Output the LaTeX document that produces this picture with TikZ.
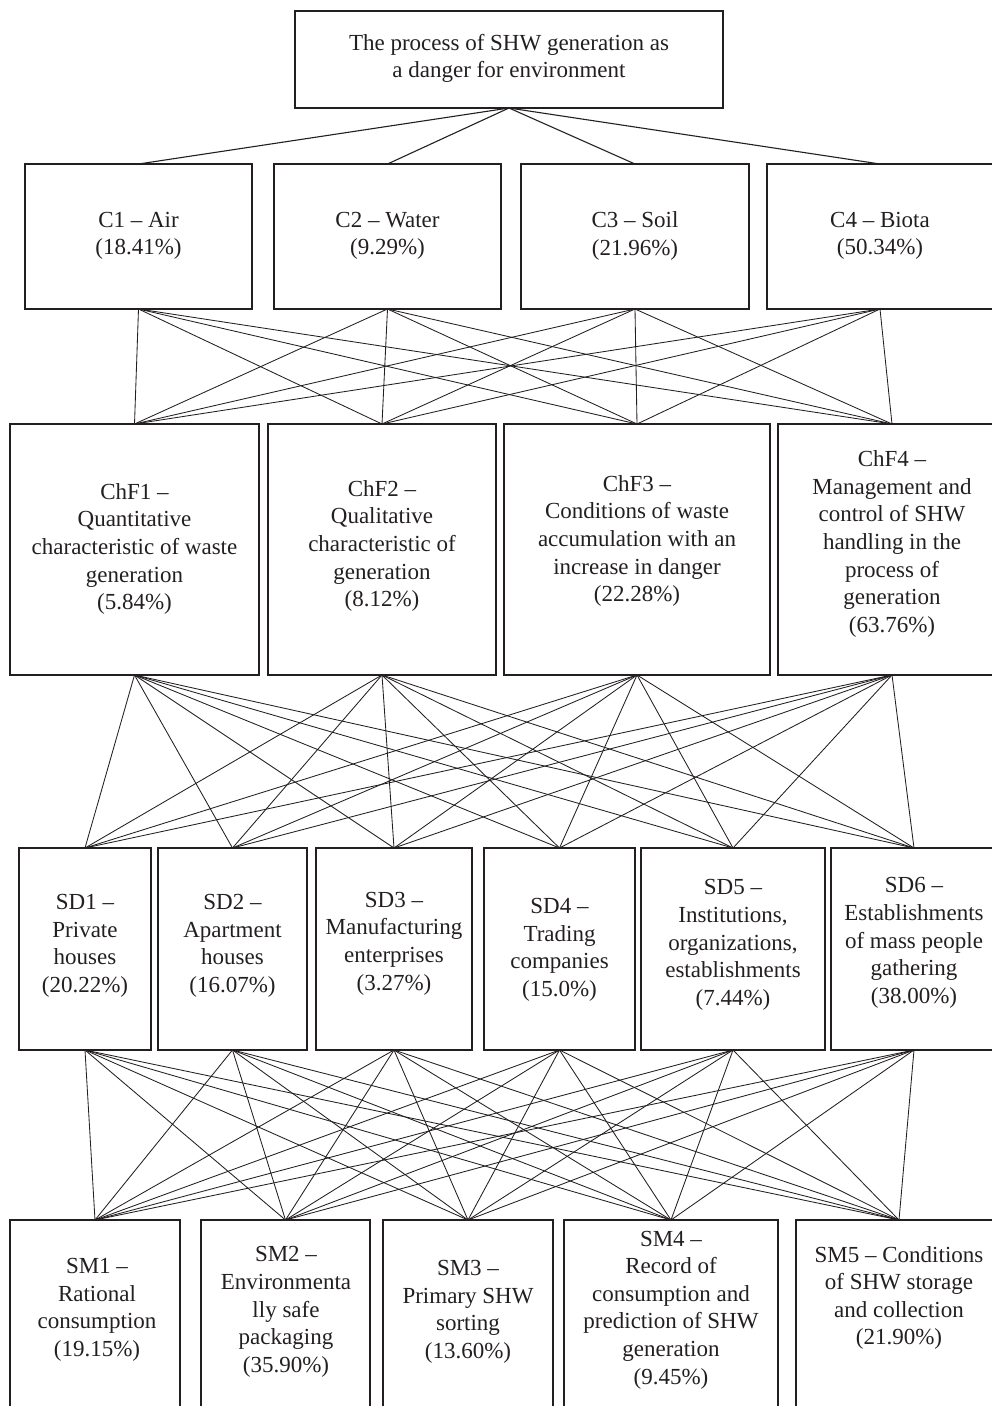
\documentclass[tikz,border=0pt]{standalone}
\usepackage{fontspec}
\setmainfont{Liberation Serif}
\definecolor{ink}{RGB}{35,31,32}
\newcommand\bx[5]{\node[box, minimum width={(#3-#2)*1pt}, minimum height={(#5-#4)*1pt}] (#1) at ({(#2+#3)/2},{(#4+#5)/2}) {};}
\begin{document}
\begin{tikzpicture}[x=1pt,y=-1pt, color=ink,
  box/.style={draw=ink, line width=1.1pt, inner sep=0pt, outer sep=0pt, rectangle},
  lbl/.style={align=center, inner sep=0pt, text=ink, font=\fontsize{23}{27.6}\selectfont},
  toplink/.style={draw=ink, line width=1.1pt},
  link/.style={draw=ink, line width=0.85pt}]
\useasboundingbox (0,0) rectangle (992,1406);
\clip (0,0) rectangle (992,1406);
% boxes
\bx{top}{295}{723}{11}{108}
\bx{c1}{25}{252}{164}{309}
\bx{c2}{274}{501}{164}{309}
\bx{c3}{521}{749}{164}{309}
\bx{c4}{767}{993}{164}{309}
\bx{f1}{10}{259}{424}{675}
\bx{f2}{268}{496}{424}{675}
\bx{f3}{504}{770}{424}{675}
\bx{f4}{778}{1006}{424}{675}
\bx{d1}{19}{151}{848}{1050}
\bx{d2}{158}{307}{848}{1050}
\bx{d3}{316}{472}{848}{1050}
\bx{d4}{484}{635}{848}{1050}
\bx{d5}{641}{825}{848}{1050}
\bx{d6}{831}{997}{848}{1050}
\bx{m1}{10}{180}{1220}{1412}
\bx{m2}{201}{370}{1220}{1412}
\bx{m3}{383}{553}{1220}{1412}
\bx{m4}{564}{778}{1220}{1412}
\bx{m5}{796}{1002}{1220}{1412}
% labels
\node[lbl] (ttop) at (509,58.5) {The process of SHW generation as\\a danger for environment};
\node[lbl] (tc1) at (138.5,236) {C1 – Air\\(18.41\%)};
\node[lbl] (tc2) at (387.5,236) {C2 – Water\\(9.29\%)};
\node[lbl] (tc3) at (635,236) {C3 – Soil\\(21.96\%)};
\node[lbl] (tc4) at (880,236) {C4 – Biota\\(50.34\%)};
\node[lbl] (tf1) at (134.5,549) {ChF1 –\\Quantitative\\characteristic of waste\\generation\\(5.84\%)};
\node[lbl] (tf2) at (382,546) {ChF2 –\\Qualitative\\characteristic of\\generation\\(8.12\%)};
\node[lbl] (tf3) at (637,541) {ChF3 –\\Conditions of waste\\accumulation with an\\increase in danger\\(22.28\%)};
\node[lbl] (tf4) at (892,544) {ChF4 –\\Management and\\control of SHW\\handling in the\\process of\\generation\\(63.76\%)};
\node[lbl] (td1) at (85,946) {SD1 –\\Private\\houses\\(20.22\%)};
\node[lbl] (td2) at (232.5,946) {SD2 –\\Apartment\\houses\\(16.07\%)};
\node[lbl] (td3) at (394,943.5) {SD3 –\\Manufacturing\\enterprises\\(3.27\%)};
\node[lbl] (td4) at (559.5,950) {SD4 –\\Trading\\companies\\(15.0\%)};
\node[lbl] (td5) at (733,945) {SD5 –\\Institutions,\\organizations,\\establishments\\(7.44\%)};
\node[lbl] (td6) at (914,943) {SD6 –\\Establishments\\of mass people\\gathering\\(38.00\%)};
\node[lbl] (tm1) at (97,1310) {SM1 –\\Rational\\consumption\\(19.15\%)};
\node[lbl] (tm2) at (286,1312) {SM2 –\\Environmenta\\lly safe\\packaging\\(35.90\%)};
\node[lbl] (tm3) at (468,1312) {SM3 –\\Primary SHW\\sorting\\(13.60\%)};
\node[lbl] (tm4) at (671,1310) {SM4 –\\Record of\\consumption and\\prediction of SHW\\generation\\(9.45\%)};
\node[lbl] (tm5) at (899,1298) {SM5 – Conditions\\of SHW storage\\and collection\\(21.90\%)};
% connectors
\foreach \b in {c1,c2,c3,c4} \draw[toplink] (top.south) -- (\b.north);
\foreach \a in {c1,c2,c3,c4} \foreach \b in {f1,f2,f3,f4} \draw[link] (\a.south) -- (\b.north);
\foreach \a in {f1,f2,f3,f4} \foreach \b in {d1,d2,d3,d4,d5,d6} \draw[link] (\a.south) -- (\b.north);
\foreach \a in {d1,d2,d3,d4,d5,d6} \foreach \b in {m1,m2,m3,m4,m5} \draw[link] (\a.south) -- (\b.north);
\end{tikzpicture}
\end{document}
